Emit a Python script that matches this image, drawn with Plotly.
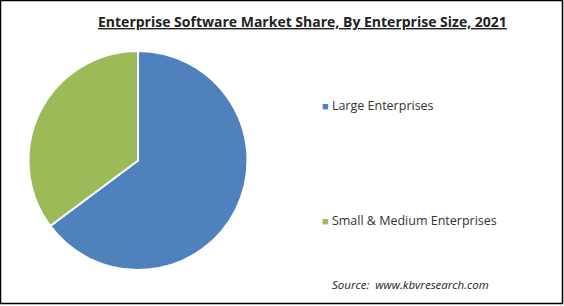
import plotly.graph_objects as go

labels = ["Large Enterprises", "Small & Medium Enterprises"]
values = [64.8, 35.2]
colors = ["#4F81BD", "#9BBB59"]
title_text = "Enterprise Software Market Share, By Enterprise Size, 2021"
source_text = "Source:  www.kbvresearch.com"

W, H = 564, 306

fig = go.Figure()
fig.add_trace(go.Pie(
    labels=labels, values=values, sort=False, direction="clockwise", rotation=0,
    marker=dict(colors=colors, line=dict(color="white", width=2)),
    textinfo="none", hoverinfo="label+percent", showlegend=False,
    domain=dict(x=[28 / W, 248 / W], y=[(H - 270) / H, (H - 51) / H]),
))

font_family = "Open Sans, Liberation Sans, Arial, sans-serif"
legend_y = [H - 105, H - 220]
for lab, col, yy in zip(labels, colors, legend_y):
    fig.add_annotation(
        x=320 / W, y=yy / H, xref="paper", yref="paper", xanchor="left", yanchor="middle",
        text=f"<span style='color:{col};font-size:11px'>■</span> {lab}",
        showarrow=False, font=dict(family=font_family, size=12.5, color="#333333"),
    )

fig.add_annotation(
    x=302 / W, y=(H - 22) / H, xref="paper", yref="paper", xanchor="center", yanchor="middle",
    text=f"<b><u>{title_text}</u></b>", showarrow=False,
    font=dict(family=font_family, size=14, color="#222222"),
)
fig.add_annotation(
    x=330 / W, y=(H - 284) / H, xref="paper", yref="paper", xanchor="left", yanchor="middle",
    text=f"<i>{source_text}</i>", showarrow=False,
    font=dict(family=font_family, size=11.5, color="#222222"),
)

fig.add_shape(type="rect", xref="paper", yref="paper", x0=0.5 / W, x1=562.5 / W, y0=(H - 303.5) / H, y1=(H - 0.5) / H,
              line=dict(color="black", width=1.5), fillcolor="rgba(0,0,0,0)")

fig.update_layout(
    width=W, height=H, margin=dict(l=0, r=0, t=0, b=0),
    paper_bgcolor="white", plot_bgcolor="white",
)
fig.write_html("out.html")
